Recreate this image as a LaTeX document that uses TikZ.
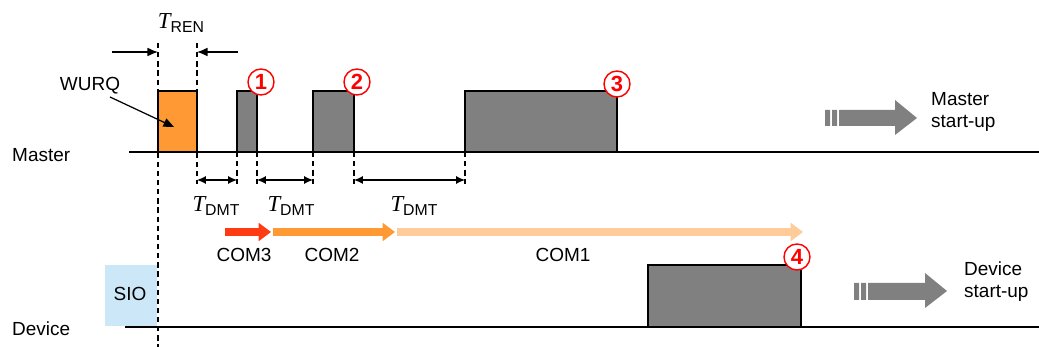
\documentclass[tikz,border=0pt]{standalone}
\usepackage{fontspec}
\setmainfont{Liberation Sans}
\newfontfamily\timesfont{Liberation Serif}
\usetikzlibrary{arrows.meta}
\definecolor{wurqorange}{HTML}{FF9933}
\definecolor{pulsegray}{HTML}{808080}
\definecolor{comred}{HTML}{FF3B14}
\definecolor{comorange}{HTML}{FF9933}
\definecolor{comlight}{HTML}{FFCC99}
\definecolor{sioblue}{HTML}{CCE8F8}
\newcommand{\tdur}[1]{{\timesfont\itshape\fontsize{13}{13}\selectfont T}\raisebox{-2.6pt}{\fontsize{9}{9}\selectfont #1}}

\begin{document}
\begin{tikzpicture}[x=0.02cm, y=-0.02cm, font=\fontsize{10.8}{12.5}\selectfont,
    pulse/.style={draw=black, fill=pulsegray, line width=0.8pt},
    guide/.style={dash pattern=on 3pt off 2.2pt, line width=0.7pt},
    dimarrow/.style={{Latex[length=5pt,width=4.5pt]}-{Latex[length=5pt,width=4.5pt]}, line width=0.7pt},
    num/.style={circle, draw=red, fill=white, line width=0.8pt, text=red,
      font=\fontsize{12.5}{13}\selectfont\bfseries, inner sep=0pt, minimum size=0.52cm},
    com/.style={line width=4pt, -{Triangle[length=7pt,width=10pt]}}]
    \useasboundingbox (0,0) rectangle (1039,347);

    % time lines
    \coordinate (ma) at (129,152);
    \coordinate (mb) at (1039,152);
    \coordinate (da) at (125,327);
    \coordinate (db) at (1039,327);
    \node[anchor=west] (master) at (6,155) {Master};
    \node[anchor=west] (device) at (6,329) {Device};

    % master side
    \filldraw[pulse, fill=wurqorange] (158,91) rectangle (197,152);
    \filldraw[pulse] (237,91) rectangle (257,152);
    \filldraw[pulse] (313,91) rectangle (354,152);
    \filldraw[pulse] (465,91) rectangle (617,152);
    \draw[line width=1pt] (ma) -- (mb);
    \node[num] (one) at (261,82) {1};
    \node[num] (two) at (357,82) {2};
    \node[num] (three) at (617,84) {3};

    \draw[guide] (158,43) -- (158,347);
    \draw[guide] (197,43) -- (197,184);
    \foreach \x in {237,257,313,354,465}
      \draw[guide] (\x,152) -- (\x,184);

    \node (tren) at (181,23) {\tdur{REN}};
    \coordinate (rena) at (112,52);
    \coordinate (renb) at (158,52);
    \coordinate (renc) at (238,52);
    \coordinate (rend) at (197,52);
    \draw[-{Latex[length=6pt,width=5pt]}, line width=0.7pt] (rena) -- (renb);
    \draw[-{Latex[length=6pt,width=5pt]}, line width=0.7pt] (renc) -- (rend);

    \node (wurq) at (90,86) {WURQ};
    \coordinate (wurqin) at (174,127);
    \draw[-{Triangle[length=6pt,width=5pt]}, line width=0.7pt] (110,97) -- (wurqin);

    \draw[dimarrow] (197,180) -- (237,180);
    \draw[dimarrow] (257,180) -- (313,180);
    \draw[dimarrow] (354,180) -- (465,180);
    \node (tdmta) at (216,206) {\tdur{DMT}};
    \node (tdmtb) at (291,206) {\tdur{DMT}};
    \node (tdmtc) at (414,206) {\tdur{DMT}};

    % wake-up tries
    \coordinate (ca) at (225,232);
    \coordinate (cb) at (271,232);
    \coordinate (cc) at (273,232);
    \coordinate (cd) at (395,232);
    \coordinate (ce) at (397,232);
    \coordinate (cf) at (803,232);
    \draw[com, comred] (ca) -- (cb);
    \draw[com, comorange] (cc) -- (cd);
    \draw[com, comlight] (ce) -- (cf);
    \node (comthree) at (244,255) {COM3};
    \node (comtwo) at (332,255) {COM2};
    \node (comone) at (563,255) {COM1};

    % device side
    \fill[sioblue] (105,265) rectangle (157,326);
    \node (sio) at (130,294) {SIO};
    \filldraw[pulse] (648,265) rectangle (801,327);
    \draw[line width=1pt] (da) -- (db);
    \node[num] (four) at (797,257) {4};

    % start-up arrows
    \fill[pulsegray] (825,110) rectangle (830,126) (832,110) rectangle (837,126);
    \fill[pulsegray] (839,110) -- (895,110) -- (895,100) -- (917,118) -- (895,135)
      -- (895,126) -- (839,126) -- cycle;
    \node[anchor=west, align=left] (mstart) at (925,112) {Master\\start-up};
    \fill[pulsegray] (854,283) rectangle (859,300) (861,283) rectangle (866,300);
    \fill[pulsegray] (868,283) -- (925,283) -- (925,273) -- (947,291) -- (925,308)
      -- (925,300) -- (868,300) -- cycle;
    \node[anchor=west, align=left] (dstart) at (958,282) {Device\\start-up};
\end{tikzpicture}
\end{document}
